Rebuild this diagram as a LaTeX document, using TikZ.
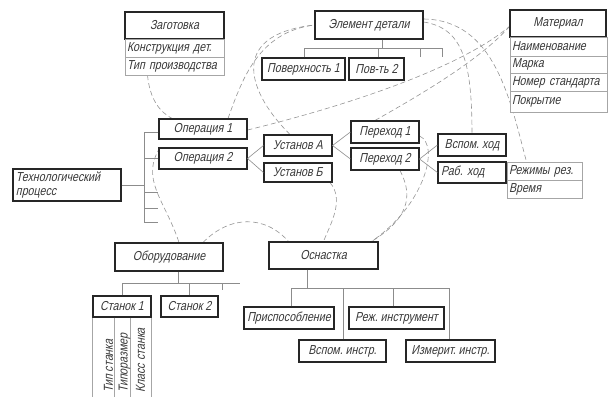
\documentclass[tikz,border=0pt]{standalone}
\usepackage{fontspec}
\setmainfont{Liberation Sans}
\newfontfamily\draftfont{Liberation Sans}[FakeStretch=0.82, FakeSlant=0.22]
\usetikzlibrary{calc}
\pgfdeclarelayer{bg}
\pgfsetlayers{bg,main}
\begin{document}
\frenchspacing
\begin{tikzpicture}[x=1pt,y=-1pt,
  lbl/.style={font=\draftfont\fontsize{13}{13.5}\selectfont, text=black!78},
  bx/.style={lbl, draw=black!85, line width=1.1pt, fill=white, inner sep=0pt, align=center},
  cell/.style={lbl, draw=black!35, line width=0.5pt, fill=white, inner xsep=2pt, inner ysep=0pt, align=left},
  tr/.style={draw=black!45, line width=0.6pt},
  dsh/.style={draw=black!42, line width=0.6pt, dash pattern=on 5pt off 3pt},
  rot/.style={lbl, rotate=90, anchor=west, inner sep=0pt}]
\useasboundingbox (0,0) rectangle (612,396);

% ---- boxes
\node[bx, minimum width=99pt, minimum height=27pt] (zag) at (174.5,25.5) {Заготовка};
\node[cell, minimum width=99pt, minimum height=18pt, text width=95pt] (zag1) at (174.5,48) {Конструкция дет.};
\node[cell, minimum width=99pt, minimum height=18pt, text width=95pt] (zag2) at (174.5,66) {Тип производства};

\node[bx, minimum width=108pt, minimum height=28pt] (eld) at (369,25) {Элемент детали};
\node[bx, minimum width=83pt, minimum height=22pt] (pov1) at (303.5,69) {Поверхность 1};
\node[bx, minimum width=55pt, minimum height=22pt] (pov2) at (376.5,69) {Пов-ть 2};

\node[bx, minimum width=96pt, minimum height=27pt] (mat) at (558,23.5) {Материал};
\node[cell, minimum width=97pt, minimum height=19pt, text width=93pt] (mat1) at (558.5,46.5) {Наименование};
\node[cell, minimum width=97pt, minimum height=17pt, text width=93pt] (mat2) at (558.5,64.5) {Марка};
\node[cell, minimum width=97pt, minimum height=18pt, text width=93pt] (mat3) at (558.5,82) {Номер стандарта};
\node[cell, minimum width=97pt, minimum height=21pt, text width=93pt] (mat4) at (558.5,101.5) {Покрытие};

\node[bx, minimum width=108pt, minimum height=32pt, text width=102pt, align=left] (tp) at (67,185) {Технологический\\процесс};
\node[bx, minimum width=88pt, minimum height=20pt] (op1) at (203,129) {Операция 1};
\node[bx, minimum width=88pt, minimum height=21pt] (op2) at (203,158.5) {Операция 2};

\node[bx, minimum width=68pt, minimum height=21pt] (usta) at (298,145.5) {Установ А};
\node[bx, minimum width=68pt, minimum height=19pt] (ustb) at (298,172.5) {Установ Б};
\node[bx, minimum width=68pt, minimum height=22pt] (per1) at (385,132) {Переход 1};
\node[bx, minimum width=68pt, minimum height=22pt] (per2) at (385,159) {Переход 2};
\node[bx, minimum width=68pt, minimum height=22pt] (vsp) at (472,145) {Вспом. ход};
\node[bx, minimum width=68pt, minimum height=21pt, text width=62pt, align=left] (rab) at (472,172.5) {Раб. ход};
\node[cell, minimum width=75pt, minimum height=18pt, text width=71pt] (rez1) at (544.5,171) {Режимы рез.};
\node[cell, minimum width=75pt, minimum height=18pt, text width=71pt] (rez2) at (544.5,189) {Время};

\node[bx, minimum width=108pt, minimum height=28pt] (obo) at (169,257) {Оборудование};
\node[bx, minimum width=58pt, minimum height=21pt] (st1) at (122,306.5) {Станок 1};
\node[bx, minimum width=57pt, minimum height=21pt] (st2) at (189.5,306.5) {Станок 2};

\node[bx, minimum width=109pt, minimum height=27pt] (osn) at (323.5,255.5) {Оснастка};
\node[bx, minimum width=90pt, minimum height=22pt] (pri) at (289,318) {Приспособление};
\node[bx, minimum width=95pt, minimum height=22pt] (rej) at (396.5,318) {Реж. инструмент};
\node[bx, minimum width=87pt, minimum height=22pt] (vspi) at (342.5,351) {Вспом. инстр.};
\node[bx, minimum width=89pt, minimum height=22pt] (izm) at (450.5,351) {Измерит. инстр.};

% ---- machine properties under Станок 1
\draw[tr, draw=black!35] (st1.south west) -- +(0,80);
\draw[tr, draw=black!35] ([xshift=22pt]st1.south west) -- +(0,80);
\draw[tr, draw=black!35] ([xshift=38pt]st1.south west) -- +(0,80);
\draw[tr, draw=black!35] (st1.south east) -- +(0,80);
\node[rot] (pr1) at (108.5,393) {Тип станка};
\node[rot] (pr2) at (124.5,393) {Типоразмер};
\node[rot] (pr3) at (140.5,393) {Класс станка};

% ---- trees
% Элемент детали
\coordinate (ej) at (382,48);
\draw[tr] (ej |- eld.south) -- (ej);
\draw[tr] (pov1.north -| 304,0) -- (304,48) -- (442,48) -- (442,57);
\draw[tr] (pov2.north -| 378,0) -- (378,48);
\draw[tr] (420,57) -- (420,48);
% Технологический процесс
\coordinate (tj) at (144,185);
\draw[tr] (tp.east) -- (tj);
\draw[tr] (op1.west |- 0,132) -- (144,132) -- (144,222) -- (158,222);
\draw[tr] (op2.west) -- (144,158.5);
\draw[tr] (144,192) -- (158,192);
\draw[tr] (144,208) -- (158,208);
% Оборудование
\draw[tr] (obo.south -| 178,0) -- (178,283);
\draw[tr] (st1.north -| 122,0) -- (122,283) -- (240,283);
\draw[tr] (st2.north -| 189,0) -- (189,283);
\draw[tr] (222,283) -- (222,290);
% Оснастка
\draw[tr] (osn.south -| 307,0) -- (307,288);
\draw[tr] (pri.north -| 291,0) -- (291,288) -- (449,288) -- (izm.north -| 449,0);
\draw[tr] (vspi.north -| 343,0) -- (343,288);
\draw[tr] (rej.north -| 393,0) -- (393,288);
% forks
\draw[tr] (usta.west) -- (op2.east) -- (ustb.west);
\draw[tr] (per1.west) -- (usta.east) -- (per2.west);
\draw[tr] (vsp.west) -- (per2.east) -- (rab.west);

% ---- dashed links, kept under the boxes
\begin{pgfonlayer}{bg}
\draw[dsh] ([xshift=-27pt]zag2.south) .. controls (150,100) and (160,112) .. ([xshift=-31pt]op1.north);
\draw[dsh] ([xshift=25pt]op1.north) .. controls (242,80) and (258,32) .. (eld.west);
\draw[dsh] ([xshift=-8pt]usta.north) .. controls (250,95) and (225,35) .. (eld.west);
\draw[dsh] ([yshift=-1pt]op1.east) .. controls (330,110) and (455,72) .. ([yshift=-3pt]mat.west);
\draw[dsh] ([xshift=-10pt]per1.north) .. controls (420,95) and (480,60) .. ([yshift=-3pt]mat.west);
\draw[dsh] ([yshift=3pt]eld.east) .. controls (462,28) and (472,60) .. (vsp.north);
\draw[dsh] ([yshift=6pt]eld.east) .. controls (495,20) and (510,100) .. ([xshift=-18pt]rez1.north);
\draw[dsh] ([xshift=-43pt]op2.north) .. controls (140,180) and (165,200) .. ([xshift=10pt]obo.north);
\draw[dsh] ([xshift=34pt]obo.north) .. controls (230,215) and (265,215) .. ([xshift=-35pt]osn.north);
\draw[dsh] ([xshift=32pt]ustb.south) .. controls (345,200) and (330,225) .. (osn.north);
\draw[dsh] ([yshift=-4pt]per1.east) .. controls (440,145) and (425,205) .. ([xshift=48pt]osn.north);
\draw[dsh] ([xshift=15pt]per2.south) .. controls (410,190) and (415,215) .. ([xshift=48pt]osn.north);
\end{pgfonlayer}
\end{tikzpicture}
\end{document}
